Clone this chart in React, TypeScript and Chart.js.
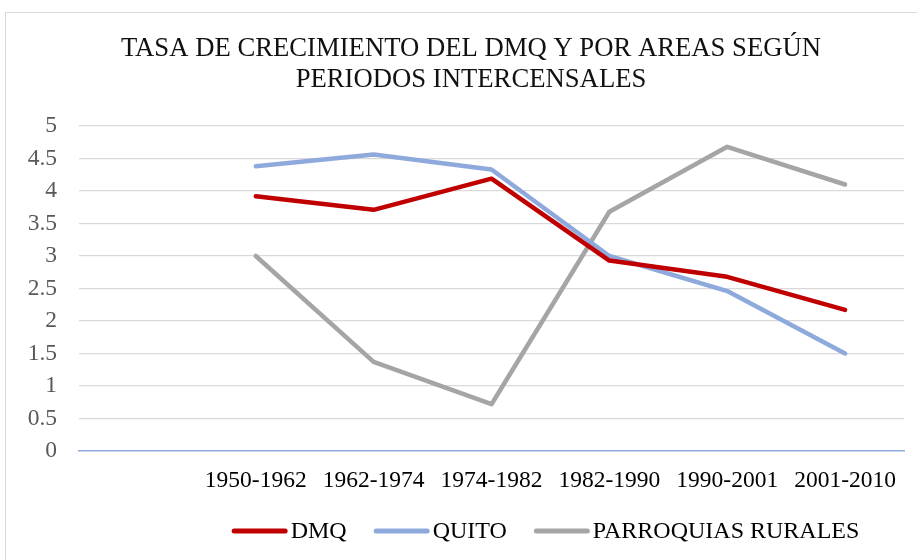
import React, { useEffect, useRef } from "react";
import { Chart, registerables } from "chart.js";

Chart.register(...registerables);

const titleLines = ["TASA DE CRECIMIENTO DEL DMQ Y POR AREAS SEGÚN", "PERIODOS INTERCENSALES"];
const categories = ["", "1950-1962", "1962-1974", "1974-1982", "1982-1990", "1990-2001", "2001-2010"];
const dmqValues = [null, 3.92, 3.71, 4.19, 2.93, 2.68, 2.17];
const quitoValues = [null, 4.38, 4.56, 4.33, 3.0, 2.46, 1.5];
const ruralValues = [null, 3.0, 1.37, 0.72, 3.68, 4.68, 4.1];
const seriesNames = ["DMQ", "QUITO", "PARROQUIAS RURALES"];
const seriesColors = ["#C00000", "#8EA9DB", "#A5A5A5"];
const yMin = 0;
const yMax = 5;
const yStep = 0.5;

const FONT = "'Liberation Serif', 'Times New Roman', serif";

const legendPlugin = {
  id: "excelLegend",
  afterDraw(chart: any) {
    const ctx = chart.ctx as CanvasRenderingContext2D;
    ctx.save();
    ctx.font = `24px ${FONT}`;
    const lineW = 56;
    const gapText = 3;
    const gapItem = 27;
    const items = chart.data.datasets.map((ds: any) => ({
      label: ds.label as string,
      color: ds.borderColor as string,
      w: ctx.measureText(ds.label).width,
    }));
    const total =
      items.reduce((s: number, it: any) => s + lineW + gapText + it.w, 0) + gapItem * (items.length - 1);
    let x = 539.5 - total / 2;
    const y = chart.height - 42;
    ctx.textBaseline = "middle";
    ctx.textAlign = "left";
    for (const it of items) {
      ctx.beginPath();
      ctx.strokeStyle = it.color;
      ctx.lineWidth = 5;
      ctx.lineCap = "round";
      ctx.moveTo(x + 2.5, y);
      ctx.lineTo(x + lineW - 2.5, y);
      ctx.stroke();
      ctx.fillStyle = "#000000";
      ctx.fillText(it.label, x + lineW + gapText, y + 1);
      x += lineW + gapText + it.w + gapItem;
    }
    ctx.restore();
  },
};

export default function App() {
  const canvasRef = useRef<HTMLCanvasElement | null>(null);

  useEffect(() => {
    if (!canvasRef.current) return;
    const values = [dmqValues, quitoValues, ruralValues];
    const chart = new Chart(canvasRef.current, {
      type: "line",
      data: {
        labels: categories,
        datasets: seriesNames.map((name, i) => ({
          label: name,
          data: values[i],
          borderColor: seriesColors[i],
          backgroundColor: seriesColors[i],
          borderWidth: 4.5,
          borderCapStyle: "round",
          borderJoinStyle: "round",
          pointRadius: 0,
          pointHoverRadius: 0,
          tension: 0,
          spanGaps: false,
          yAxisID: "y",
        })),
      },
      options: {
        responsive: false,
        animation: false,
        devicePixelRatio: 1,
        layout: { padding: { left: 0, right: 0, top: 0, bottom: 0 } },
        plugins: {
          legend: { display: false },
          tooltip: { enabled: false },
          title: {
            display: true,
            text: titleLines,
            color: "#111111",
            font: { family: FONT, size: 26.7, weight: "normal", lineHeight: 31 / 26.7 },
            padding: { top: 20.5, bottom: 30.5 },
          },
        },
        scales: {
          x: {
            offset: true,
            grid: { display: false, drawTicks: false },
            border: { display: true, color: "#8FAADC", width: 1.5 },
            ticks: {
              autoSkip: false,
              maxRotation: 0,
              minRotation: 0,
              padding: 16,
              color: "#000000",
              font: { family: FONT, size: 23.5 },
            },
            afterFit(scale: any) {
              scale.height = 122;
            },
          },
          y: {
            min: yMin,
            max: yMax,
            ticks: {
              stepSize: yStep,
              padding: 22,
              color: "#595959",
              font: { family: FONT, size: 23.5 },
              callback: (v: any) => String(Number(v)),
            },
            grid: {
              drawTicks: false,
              color: (c: any) => (c.tick && c.tick.value === 0 ? "rgba(0,0,0,0)" : "#D9D9D9"),
              lineWidth: 1.3,
            },
            border: { display: false },
            afterFit(scale: any) {
              scale.width = 73;
            },
          },
          yRight: {
            position: "right",
            display: true,
            min: yMin,
            max: yMax,
            grid: { display: false, drawTicks: false },
            border: { display: false },
            ticks: { display: false },
            afterFit(scale: any) {
              scale.width = 32;
            },
          },
        },
      },
      plugins: [legendPlugin],
    });
    return () => chart.destroy();
  }, []);

  return (
    <div
      style={{
        position: "fixed",
        left: 0,
        top: 0,
        width: 917,
        height: 560,
        overflow: "hidden",
        background: "#ffffff",
      }}
    >
      <div
        style={{
          position: "absolute",
          left: 5,
          top: 12,
          width: 930,
          height: 560,
          border: "1px solid #D9D9D9",
          background: "#ffffff",
        }}
      >
        <canvas ref={canvasRef} width={930} height={560} style={{ display: "block", width: 930, height: 560 }} />
      </div>
    </div>
  );
}
